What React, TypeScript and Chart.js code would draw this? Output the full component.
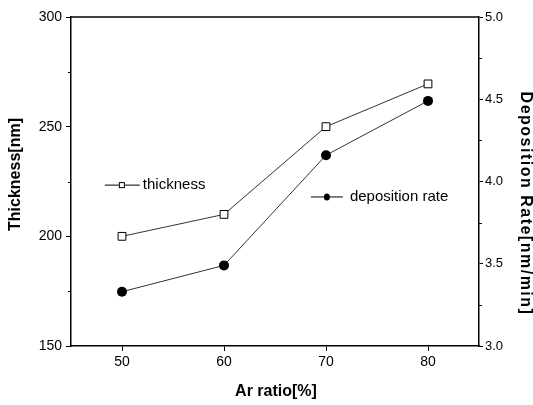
import React, { useEffect, useRef } from "react";
import { Chart, registerables } from "chart.js";

Chart.register(...registerables);

const arRatio = [50, 60, 70, 80];
const thickness = [200, 210, 250, 269.5];
const depositionRate = [3.33, 3.49, 4.16, 4.49];
const xTicks = [50, 60, 70, 80];
const yTicks = [150, 200, 250, 300];
const yMinor = [175, 225, 275];
const y1Ticks = [3.0, 3.5, 4.0, 4.5, 5.0];
const y1Minor = [3.25, 3.75, 4.25, 4.75];

const FONT = "'Liberation Sans', Arial, sans-serif";

const decorPlugin = {
  id: "decor",
  afterDraw(chart: any) {
    const ctx = chart.ctx as CanvasRenderingContext2D;
    const a = chart.chartArea;
    const ys = chart.scales.y;
    const y1s = chart.scales.y1;
    ctx.save();
    // top border
    ctx.strokeStyle = "#000";
    ctx.lineWidth = 1.5;
    ctx.beginPath();
    ctx.moveTo(a.left, a.top);
    ctx.lineTo(a.right, a.top);
    ctx.stroke();
    // minor ticks
    ctx.lineWidth = 1;
    yMinor.forEach((v) => {
      const p = Math.round(ys.getPixelForValue(v)) + 0.5;
      ctx.beginPath();
      ctx.moveTo(a.left - 3, p);
      ctx.lineTo(a.left, p);
      ctx.stroke();
    });
    y1Minor.forEach((v) => {
      const p = Math.round(y1s.getPixelForValue(v)) + 0.5;
      ctx.beginPath();
      ctx.moveTo(a.right, p);
      ctx.lineTo(a.right + 3, p);
      ctx.stroke();
    });
    // axis titles
    ctx.fillStyle = "#000";
    ctx.font = `bold 16px ${FONT}`;
    ctx.textAlign = "center";
    ctx.textBaseline = "middle";
    ctx.save();
    ctx.translate(a.left - 55, (a.top + a.bottom) / 2 - 7);
    ctx.rotate(-Math.PI / 2);
    ctx.fillText("Thickness[nm]", 0, 0);
    ctx.restore();

    ctx.fillText("Ar ratio[%]", (a.left + a.right) / 2 + 1, a.bottom + 46);

    ctx.save();
    ctx.translate(a.right + 46, (a.top + a.bottom) / 2 + 22);
    ctx.rotate(Math.PI / 2);
    try {
      (ctx as any).letterSpacing = "1.5px";
    } catch (e) {}
    ctx.fillText("Deposition Rate[nm/min]", 0, 0);
    ctx.restore();

    // legend
    const w = a.right - a.left;
    const h = a.bottom - a.top;
    ctx.font = `15px ${FONT}`;
    ctx.textAlign = "left";
    ctx.strokeStyle = "#000";
    ctx.lineWidth = 1;
    // thickness item
    const lx1 = a.left + w * 0.083;
    const ly1 = a.top + h * 0.511;
    ctx.beginPath();
    ctx.moveTo(lx1, ly1);
    ctx.lineTo(lx1 + 35, ly1);
    ctx.stroke();
    ctx.fillStyle = "#fff";
    ctx.fillRect(lx1 + 14, ly1 - 3, 6, 6);
    ctx.strokeRect(lx1 + 14.5, ly1 - 2.5, 5, 5);
    ctx.fillStyle = "#000";
    ctx.fillText("thickness", lx1 + 38, ly1);
    // deposition rate item
    const lx2 = a.left + w * 0.588;
    const ly2 = a.top + h * 0.547;
    ctx.beginPath();
    ctx.moveTo(lx2, ly2);
    ctx.lineTo(lx2 + 32, ly2);
    ctx.stroke();
    ctx.beginPath();
    ctx.ellipse(lx2 + 16, ly2, 3, 3.5, 0, 0, Math.PI * 2);
    ctx.fill();
    ctx.fillText("deposition rate", lx2 + 39, ly2);
    ctx.restore();
  },
};

export default function App() {
  const ref = useRef<HTMLCanvasElement | null>(null);
  useEffect(() => {
    if (!ref.current) return;
    const chart = new Chart(ref.current, {
      type: "line",
      data: {
        datasets: [
          {
            label: "thickness",
            data: arRatio.map((x, i) => ({ x, y: thickness[i] })),
            yAxisID: "y",
            borderColor: "#333",
            borderWidth: 1,
            pointStyle: "rect",
            pointRadius: 5.5,
            pointBackgroundColor: "#fff",
            pointBorderColor: "#000",
            pointBorderWidth: 1,
            tension: 0,
          },
          {
            label: "deposition rate",
            data: arRatio.map((x, i) => ({ x, y: depositionRate[i] })),
            yAxisID: "y1",
            borderColor: "#333",
            borderWidth: 1,
            pointStyle: "circle",
            pointRadius: 5,
            pointBackgroundColor: "#000",
            pointBorderColor: "#000",
            pointBorderWidth: 0,
            tension: 0,
          },
        ],
      },
      options: {
        responsive: false,
        animation: false,
        layout: { padding: { top: 17, left: 0, right: 0, bottom: 0 } },
        plugins: { legend: { display: false }, tooltip: { enabled: false } },
        scales: {
          x: {
            type: "linear",
            min: 45,
            max: 85,
            afterBuildTicks: (s: any) => {
              s.ticks = xTicks.map((v) => ({ value: v }));
            },
            afterFit: (s: any) => {
              s.height = 59;
            },
            grid: {
              display: true,
              drawOnChartArea: false,
              drawTicks: true,
              tickLength: 5,
              color: "#000",
              lineWidth: 1,
            },
            border: { display: true, color: "#000", width: 1.5 },
            ticks: {
              color: "#000",
              font: { family: FONT, size: 14 },
              padding: 3,
              maxRotation: 0,
            },
          },
          y: {
            type: "linear",
            position: "left",
            min: 150,
            max: 300,
            afterBuildTicks: (s: any) => {
              s.ticks = yTicks.map((v) => ({ value: v }));
            },
            afterFit: (s: any) => {
              s.width = 71;
            },
            grid: {
              display: true,
              drawOnChartArea: false,
              drawTicks: true,
              tickLength: 5,
              color: "#000",
              lineWidth: 1,
            },
            border: { display: true, color: "#000", width: 1.5 },
            ticks: {
              color: "#000",
              font: { family: FONT, size: 14 },
              padding: 4,
            },
          },
          y1: {
            type: "linear",
            position: "right",
            min: 3,
            max: 5,
            afterBuildTicks: (s: any) => {
              s.ticks = y1Ticks.map((v) => ({ value: v }));
            },
            afterFit: (s: any) => {
              s.width = 54;
            },
            grid: {
              display: true,
              drawOnChartArea: false,
              drawTicks: true,
              tickLength: 4,
              color: "#000",
              lineWidth: 1,
            },
            border: { display: true, color: "#000", width: 1.5 },
            ticks: {
              color: "#000",
              font: { family: FONT, size: 13 },
              padding: 2,
              callback: (v: any) => Number(v).toFixed(1),
            },
          },
        },
      },
      plugins: [decorPlugin],
    } as any);
    return () => chart.destroy();
  }, []);
  return (
    <div style={{ position: "fixed", left: 0, top: 0, width: 533, height: 405, background: "#fff" }}>
      <canvas ref={ref} width={533} height={405} style={{ display: "block" }} />
    </div>
  );
}
